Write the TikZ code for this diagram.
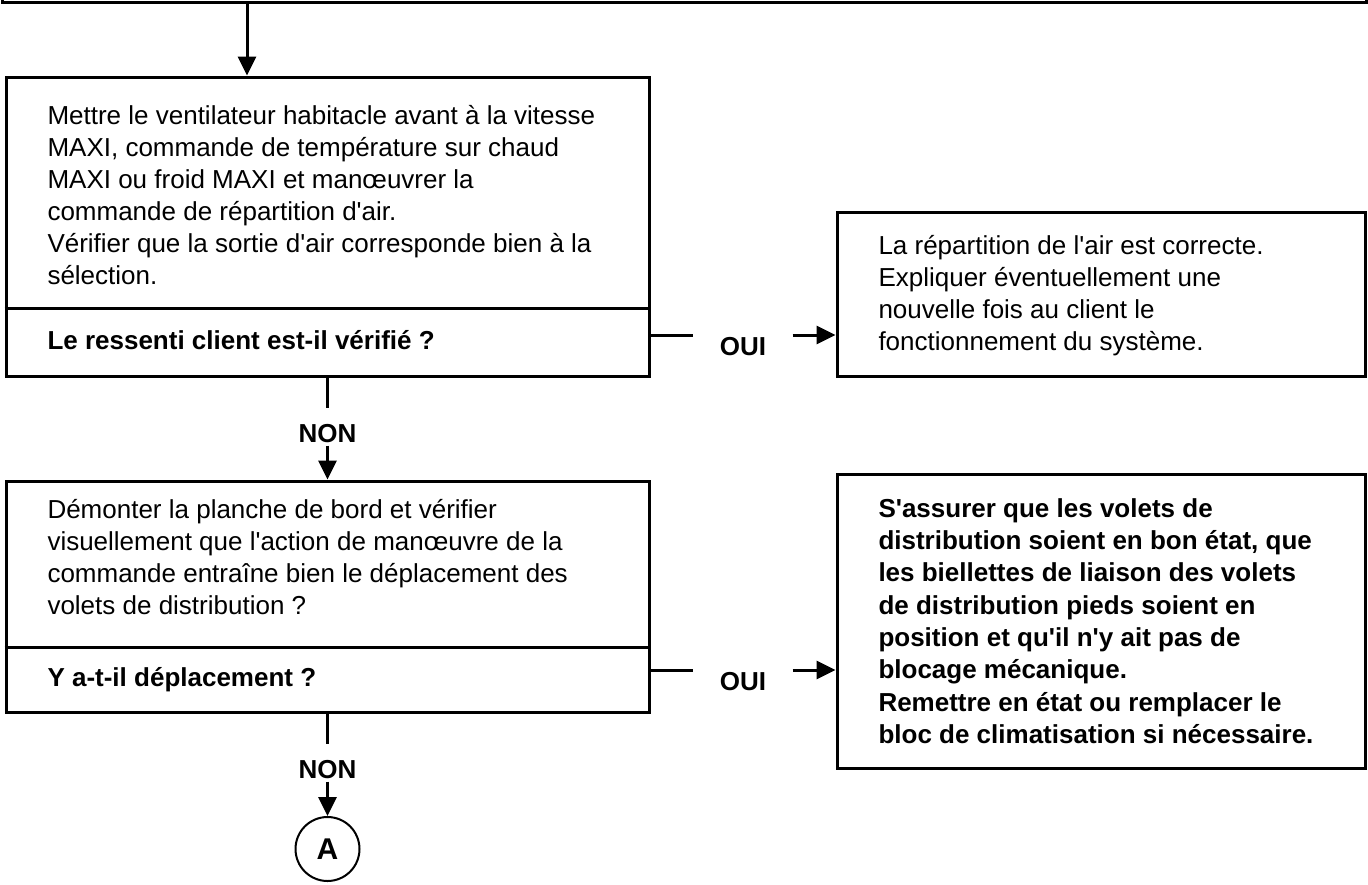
\documentclass[tikz,border=0pt]{standalone}
\usepackage{fontspec}
\setmainfont{Liberation Sans}
\newfontfamily\arialfont{Liberation Sans}
\usetikzlibrary{arrows.meta}
\tikzset{
    every node/.style={inner sep=0pt, font=\arialfont\fontsize{26}{32}\selectfont}
}
\tikzset{
    box/.style={rectangle, draw, line width=3pt},
    txt/.style={anchor=west, align=left},
    ask/.style={anchor=west, font=\arialfont\fontsize{26}{32}\selectfont\bfseries},
    yes/.style={anchor=north, inner xsep=25pt, inner ysep=1pt, font=\arialfont\fontsize{26}{32}\selectfont\bfseries},
    no/.style={inner ysep=1pt, font=\arialfont\fontsize{26}{32}\selectfont\bfseries},
    arr/.style={line width=3pt, -{Triangle[length=19pt, width=18pt]}}
}

\begin{document}
\begin{tikzpicture}[x=1pt, y=-1pt, line width=3pt]
  \useasboundingbox (0,0) rectangle (1368,884);

  % boxes
  \node (prev) [box, minimum width=1364pt, minimum height=204pt] at (684, -100) {};
  \node (b1) [box, minimum width=643pt, minimum height=299pt] at (327.5, 226.5) {};
  \node (r1) [box, minimum width=528pt, minimum height=164pt] at (1101, 294) {};
  \node (b2) [box, minimum width=643pt, minimum height=231pt] at (327.5, 596.5) {};
  \node (r2) [box, minimum width=528pt, minimum height=294pt] at (1101, 621) {};
  \node (A) [circle, draw, line width=2pt, minimum size=64pt, font=\arialfont\fontsize{30}{32}\selectfont\bfseries] at (327.5, 849) {A};

  \draw ([yshift=69pt]b1.south west) -- ([yshift=69pt]b1.south east);
  \draw ([yshift=66pt]b2.south west) -- ([yshift=66pt]b2.south east);

  % texts
  \node (t1) [txt] at (46, 195) {Mettre le ventilateur habitacle avant à la vitesse\\
    MAXI, commande de température sur chaud\\
    MAXI ou froid MAXI et manœuvrer la\\
    commande de répartition d'air.\\
    Vérifier que la sortie d'air corresponde bien à la\\
    sélection.};
  \node (q1) [ask] at (46, 340) {Le ressenti client est-il vérifié ?};
  \node (t2) [txt] at (46, 557) {Démonter la planche de bord et vérifier\\
    visuellement que l'action de manœuvre de la\\
    commande entraîne bien le déplacement des\\
    volets de distribution ?};
  \node (q2) [ask] at (46, 680) {Y a-t-il déplacement ?};
  \node (t3) [txt] at (877, 296) {La répartition de l'air est correcte.\\
    Expliquer éventuellement une\\
    nouvelle fois au client le\\
    fonctionnement du système.};
  \node (t4) [txt, font=\arialfont\fontsize{26}{32.3}\selectfont\bfseries] at (877, 621) {S'assurer que les volets de\\
    distribution soient en bon état, que\\
    les biellettes de liaison des volets\\
    de distribution pieds soient en\\
    position et qu'il n'y ait pas de\\
    blocage mécanique.\\
    Remettre en état ou remplacer le\\
    bloc de climatisation si nécessaire.};

  % answers
  \node (oui1) [yes] at (743, 335) {OUI};
  \node (oui2) [yes] at (743, 670) {OUI};
  \node (non1) [no] at (327.5, 434) {NON};
  \node (non2) [no] at (327.5, 770) {NON};

  % links
  \coordinate (a0) at (247, 2);
  \draw[arr] (a0) -- (a0 |- b1.north);

  \draw (b1.east |- oui1.north) -- (oui1.north west);
  \draw[arr] (oui1.north east) -- (r1.west |- oui1.north);
  \draw (b1.south) -- ++(0, 30);
  \draw[arr] (non1.south) -- (b2.north);

  \draw (b2.east |- oui2.north) -- (oui2.north west);
  \draw[arr] (oui2.north east) -- (r2.west |- oui2.north);
  \draw (b2.south) -- ++(0, 30);
  \draw[arr] (non2.south) -- (A.north);
\end{tikzpicture}
\end{document}
